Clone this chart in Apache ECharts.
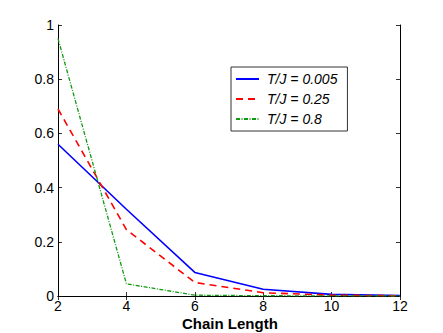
<!DOCTYPE html>
<html>
<head>
<meta charset="utf-8">
<script src="https://cdn.jsdelivr.net/npm/echarts@6/dist/echarts.min.js"></script>
<style>
  html, body { margin: 0; padding: 0; background: #fff; }
  #chart { width: 443px; height: 333px; }
</style>
</head>
<body>
<div id="chart"></div>
<script>
// chain lengths on the x axis
const chainLengths = [2, 4, 6, 8, 10, 12];
// one curve per temperature ratio
const lowT = [0.56, 0.32, 0.087, 0.025, 0.006, 0.002];
const midT = [0.69, 0.245, 0.05, 0.012, 0.003, 0.001];
const highT = [0.95, 0.045, 0.003, 0.001, 0.0005, 0.0];
const seriesNames = ['T/J = 0.005', 'T/J = 0.25', 'T/J = 0.8'];
const xTitle = 'Chain Length';

const pairs = (ys) => chainLengths.map((x, i) => [x, ys[i]]);

const chart = echarts.init(document.getElementById('chart'), null, {renderer: 'svg'});

const axisFont = {fontFamily: 'Liberation Sans', fontSize: 14, color: '#000'};
const boxLine = {show: true, lineStyle: {color: '#000', width: 1}};
const inTicks = {show: true, inside: true, length: 4, lineStyle: {color: '#000', width: 0.8}};

const option = {
  animation: false,
  grid: {left: 58, right: 43, top: 25, bottom: 37, containLabel: false, outerBoundsMode: 'none'},
  // axis title drawn by hand so v6 does not push it below the labels
  graphic: [{
    type: 'text', left: 182, top: 316,
    style: {text: xTitle, font: 'bold 15px "Liberation Sans"', fill: '#000'}
  }],
  xAxis: [
    {
      type: 'value', min: 2, max: 12, interval: 2,
      axisLine: boxLine, axisTick: inTicks, splitLine: {show: false},
      axisLabel: Object.assign({margin: 3}, axisFont)
    },
    {
      type: 'value', min: 2, max: 12, interval: 2, position: 'top',
      axisLine: boxLine, axisTick: inTicks, splitLine: {show: false},
      axisLabel: {show: false}
    }
  ],
  yAxis: [
    {
      type: 'value', min: 0, max: 1, interval: 0.2,
      axisLine: boxLine, axisTick: inTicks, splitLine: {show: false},
      axisLabel: Object.assign({margin: 4}, axisFont)
    },
    {
      type: 'value', min: 0, max: 1, interval: 0.2, position: 'right',
      axisLine: boxLine, axisTick: inTicks, splitLine: {show: false},
      axisLabel: {show: false}
    }
  ],
  legend: {
    orient: 'vertical',
    left: 231, top: 67,
    width: 116,
    padding: [5, 10, 5, 4],
    itemGap: 6,
    itemWidth: 23, itemHeight: 12,
    borderColor: '#333', borderWidth: 1,
    backgroundColor: '#fff',
    itemStyle: {opacity: 0},
    textStyle: {fontFamily: 'Liberation Sans', fontSize: 14, fontStyle: 'italic', color: '#000', padding: [0, 0, 0, 3]},
    data: seriesNames
  },
  series: [
    {
      name: seriesNames[0], type: 'line', data: pairs(lowT),
      symbol: 'none', color: '#0000ff',
      lineStyle: {color: '#0000ff', width: 1.6, type: 'solid'}
    },
    {
      name: seriesNames[1], type: 'line', data: pairs(midT),
      symbol: 'none', color: '#ff0000',
      lineStyle: {color: '#ff0000', width: 1.6, type: [7, 5]}
    },
    {
      name: seriesNames[2], type: 'line', data: pairs(highT),
      symbol: 'none', color: '#119911',
      lineStyle: {color: '#119911', width: 1.3, type: [4, 1.5, 1, 1.5]}
    }
  ]
};
chart.setOption(option);
</script>
</body>
</html>
